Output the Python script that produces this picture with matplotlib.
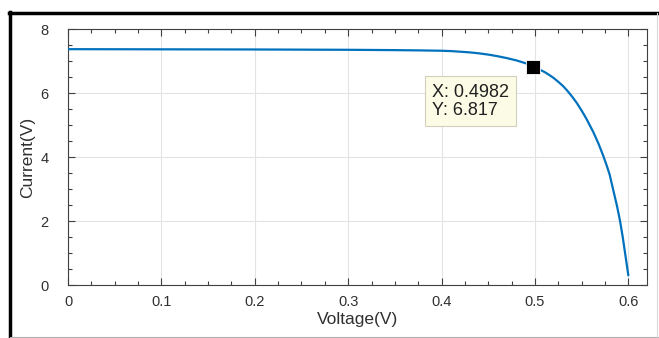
import matplotlib.pyplot as plt
from matplotlib.lines import Line2D
from matplotlib.ticker import MultipleLocator

# I-V curve of the cell
voltage = [0.0, 0.1, 0.2, 0.3, 0.35, 0.38, 0.40, 0.41, 0.42, 0.43, 0.44, 0.45,
           0.46, 0.47, 0.48, 0.49, 0.4982, 0.505, 0.51, 0.515, 0.52, 0.525,
           0.53, 0.535, 0.54, 0.545, 0.55, 0.555, 0.5625, 0.568, 0.573, 0.577,
           0.58, 0.584, 0.588, 0.591, 0.594, 0.596, 0.598, 0.6]
current = [7.37, 7.365, 7.36, 7.35, 7.34, 7.33, 7.32, 7.31, 7.29, 7.27, 7.24, 7.2,
           7.15, 7.09, 7.02, 6.93, 6.817, 6.73, 6.66, 6.57, 6.47, 6.35,
           6.22, 6.06, 5.88, 5.68, 5.45, 5.2, 4.78, 4.42, 4.05, 3.72,
           3.45, 2.95, 2.45, 2.02, 1.5, 1.1, 0.7, 0.3]

# data tip
tip_x = 0.4982
tip_y = 6.817

xticks = [0, 0.1, 0.2, 0.3, 0.4, 0.5, 0.6]
yticks = [0, 2, 4, 6, 8]

plt.rcParams['font.family'] = ['Liberation Sans', 'DejaVu Sans']
txt = '#303030'

fig = plt.figure(figsize=(6.59, 3.38), dpi=100)
ax = fig.add_axes([0.1032, 0.1568, 0.8786, 0.7574])

ax.plot(voltage, current, color='#0072bd', lw=1.6, zorder=3,
        solid_joinstyle='round', solid_capstyle='round')
ax.plot([tip_x], [tip_y], marker='s', ms=10, color='black',
        mec='white', mew=0.6, zorder=4)

ax.text(0.3895, 5.74, 'X: %.4f\nY: %.3f' % (tip_x, tip_y), fontsize=13,
        color='#202020', va='center', ha='left', linespacing=1.1, zorder=5,
        bbox=dict(boxstyle='square,pad=0.4', fc='#fcfce6', ec='#d0d0bc', lw=0.8))

ax.set_xlim(0, 0.62)
ax.set_ylim(0, 8)
ax.set_xticks(xticks)
ax.set_yticks(yticks)
ax.set_xticklabels(['0', '0.1', '0.2', '0.3', '0.4', '0.5', '0.6'])
ax.xaxis.set_minor_locator(MultipleLocator(0.025))
ax.yaxis.set_minor_locator(MultipleLocator(0.5))
ax.tick_params(which='both', direction='in', top=True, right=True,
               colors='#404040', labelcolor=txt, labelsize=10.5, width=0.8)
ax.tick_params(which='major', length=5)
ax.tick_params(axis='x', which='major', pad=7)
ax.tick_params(axis='y', which='major', pad=14)
ax.tick_params(which='minor', length=3)
ax.grid(True, which='major', color='#e3e3e3', lw=0.8)
ax.set_axisbelow(True)
for s in ax.spines.values():
    s.set_color('#404040')
    s.set_linewidth(0.8)

ax.set_xlabel('Voltage(V)', fontsize=12.5, color=txt, labelpad=2)
ax.set_ylabel('Current(V)', fontsize=12.5, color=txt, labelpad=4)

# window frame around the plot
fig.add_artist(Line2D([10 / 659, 10 / 659], [0, 1 - 12 / 338], color='black', lw=2.5))
fig.add_artist(Line2D([9 / 659, 1], [1 - 13 / 338, 1 - 13 / 338], color='black', lw=2.5))
fig.add_artist(Line2D([10 / 659, 1], [1.5 / 338, 1.5 / 338], color='#b0b0b0', lw=0.8))
fig.add_artist(Line2D([657 / 659, 657 / 659], [0, 1 - 13 / 338], color='#d8d8d8', lw=0.8))

fig.savefig('out.png', dpi=100)
